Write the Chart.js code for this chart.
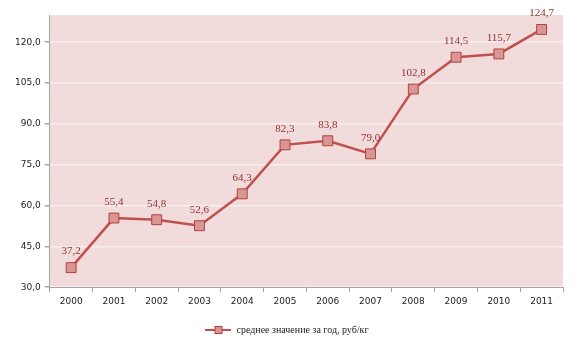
<!DOCTYPE html>
<html>
<head>
<meta charset="utf-8">
<script src="https://cdn.jsdelivr.net/npm/chart.js@4"></script>
<style>
  html, body { margin: 0; padding: 0; background: #fff; }
  #wrap { width: 586px; height: 353px; }
</style>
</head>
<body>
<div id="wrap"><canvas id="chart"></canvas></div>
<script>
// Chart data
const years = ['2000', '2001', '2002', '2003', '2004', '2005', '2006', '2007', '2008', '2009', '2010', '2011'];
const prices = [37.2, 55.4, 54.8, 52.6, 64.3, 82.3, 83.8, 79.0, 102.8, 114.5, 115.7, 124.7];
const seriesName = 'среднее значение за год, руб/кг';

const lineColor = '#C0504D';
const markerFill = '#D99694';
const markerBorder = '#B3403D';

function fmt(v) {
    return v.toFixed(1).replace('.', ',');
}

// Legend symbol: line with square marker
const legendIcon = document.createElement('canvas');
legendIcon.width = 26;
legendIcon.height = 10;
(function () {
    const c = legendIcon.getContext('2d');
    c.strokeStyle = lineColor;
    c.lineWidth = 2;
    c.beginPath();
    c.moveTo(0, 5);
    c.lineTo(26, 5);
    c.stroke();
    c.fillStyle = markerFill;
    c.strokeStyle = markerBorder;
    c.lineWidth = 1;
    c.fillRect(9, 1, 8, 8);
    c.strokeRect(9.5, 1.5, 7, 7);
})();

// Pink plot area background
const plotBackground = {
    id: 'plotBackground',
    beforeDraw(chart) {
        const a = chart.chartArea;
        const ctx = chart.ctx;
        ctx.save();
        ctx.fillStyle = '#F2DCDB';
        ctx.fillRect(a.left, a.top, a.right - a.left, a.bottom - a.top);
        ctx.restore();
    }
};

// Value labels above points
const valueLabels = {
    id: 'valueLabels',
    afterDatasetsDraw(chart) {
        const ctx = chart.ctx;
        const meta = chart.getDatasetMeta(0);
        ctx.save();
        ctx.font = '11px "Liberation Serif", "Times New Roman", serif';
        ctx.fillStyle = '#8E3330';
        ctx.textAlign = 'center';
        ctx.textBaseline = 'middle';
        meta.data.forEach((pt, i) => {
            ctx.fillText(fmt(prices[i]), pt.x, pt.y - 16);
        });
        ctx.restore();
    }
};

new Chart(document.getElementById('chart'), {
    type: 'line',
    data: {
        labels: years,
        datasets: [{
            label: seriesName,
            data: prices,
            borderColor: lineColor,
            borderWidth: 2.5,
            pointStyle: 'rect',
            pointRadius: 7,
            pointBackgroundColor: markerFill,
            pointBorderColor: markerBorder,
            pointBorderWidth: 1,
            tension: 0
        }]
    },
    options: {
        responsive: true,
        maintainAspectRatio: false,
        animation: false,
        layout: { padding: { left: 11, right: 23, top: 15, bottom: 8 } },
        plugins: {
            tooltip: { enabled: false },
            legend: {
                position: 'bottom',
                labels: {
                    usePointStyle: true,
                    pointStyleWidth: 26,
                    generateLabels: () => [{
                        text: seriesName,
                        pointStyle: legendIcon,
                        fontColor: '#222',
                        lineWidth: 0
                    }],
                    font: { family: '"Liberation Serif", "Times New Roman", serif', size: 10 },
                    color: '#222',
                    padding: 14
                }
            }
        },
        scales: {
            x: {
                offset: true,
                grid: {
                    offset: true,
                    drawOnChartArea: false,
                    drawTicks: true,
                    tickLength: 5,
                    color: '#A6A6A6'
                },
                border: { color: '#A6A6A6' },
                ticks: {
                    font: { family: '"DejaVu Sans", Verdana, sans-serif', size: 9 },
                    color: '#222',
                    padding: 4,
                    maxRotation: 0
                }
            },
            y: {
                min: 30,
                max: 130,
                afterBuildTicks: (scale) => {
                    scale.ticks = scale.ticks.filter(t => t.value <= 120);
                },
                grid: {
                    color: '#F9EEEE',
                    lineWidth: 1.5,
                    drawTicks: true,
                    tickLength: 5,
                    tickColor: '#A6A6A6'
                },
                border: { color: '#A6A6A6' },
                ticks: {
                    stepSize: 15,
                    callback: (v) => fmt(v),
                    font: { family: '"DejaVu Sans", Verdana, sans-serif', size: 9 },
                    color: '#222',
                    padding: 4
                }
            }
        }
    },
    plugins: [plotBackground, valueLabels]
});
</script>
</body>
</html>
